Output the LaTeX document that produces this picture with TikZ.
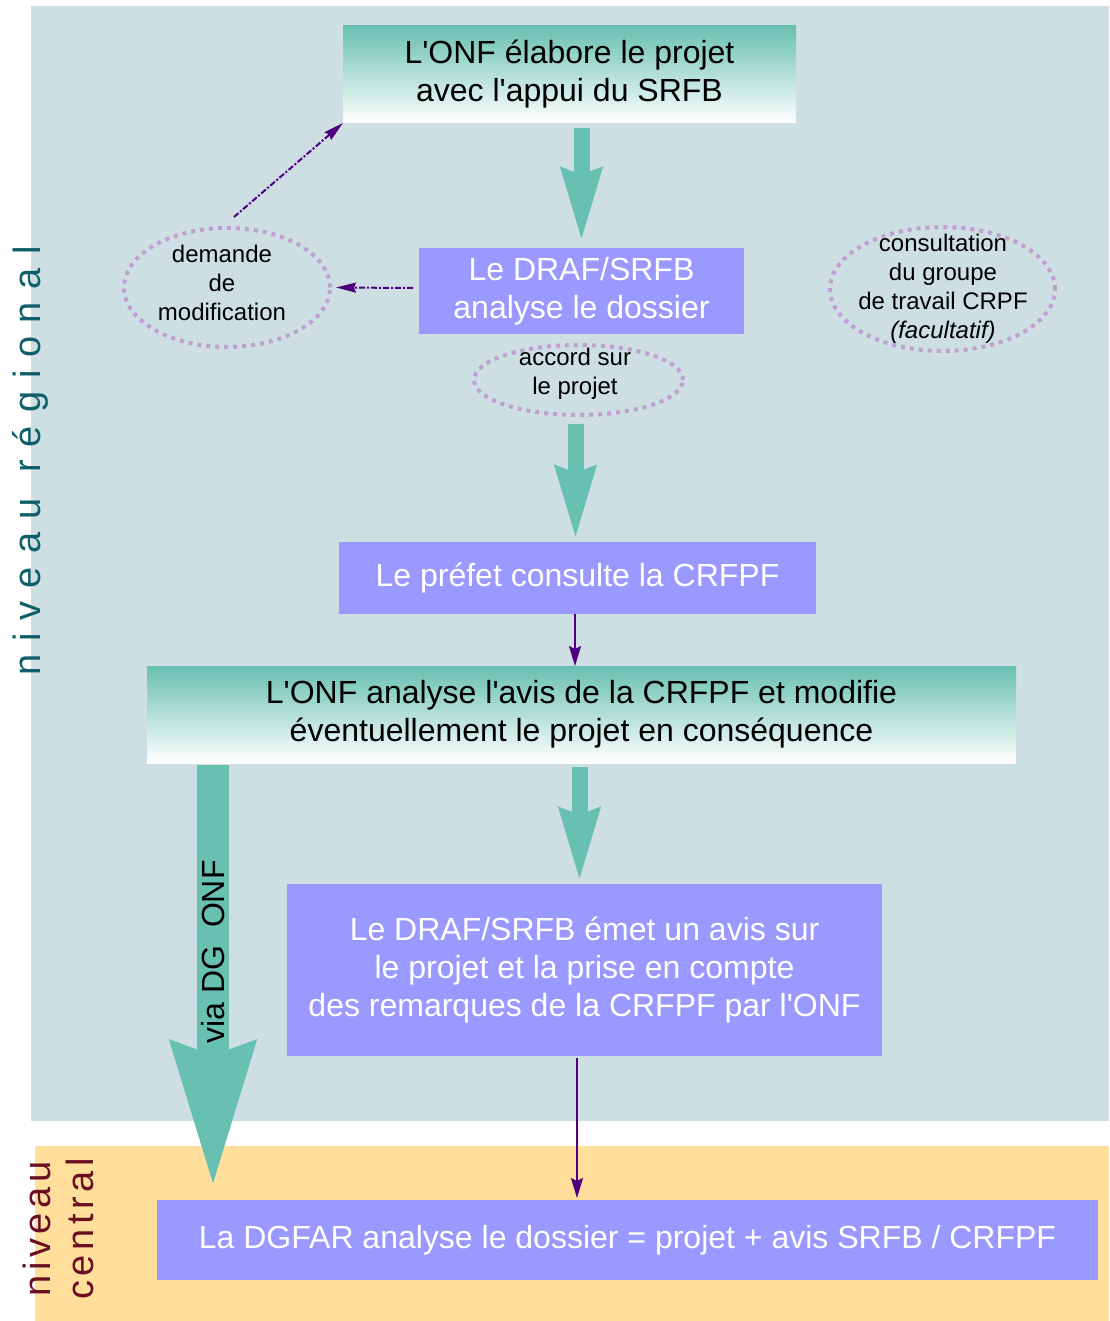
\documentclass[tikz,border=0pt]{standalone}
\usepackage{fontspec}
\setmainfont{Liberation Sans}
\usetikzlibrary{arrows.meta,shapes.geometric,calc}
\definecolor{bgreg}{HTML}{CDDFE3}
\definecolor{bgcen}{HTML}{FFDF9B}
\definecolor{boxblue}{HTML}{9999FF}
\definecolor{tealc}{HTML}{68C0B0}
\definecolor{dotc}{HTML}{C09FD2}
\definecolor{purp}{HTML}{50007F}
\definecolor{regtxt}{HTML}{0F5F6A}
\definecolor{centxt}{HTML}{6A0F22}
\newcommand\lsp{\hspace{13pt}}
\newcommand\csp{\hspace{4.5pt}}
\newcommand\q{\textquotesingle}
\begin{document}
\begin{tikzpicture}[x=1pt,y=-1pt,
  box/.style={rectangle, fill=boxblue, text=white, inner sep=0pt, outer sep=0pt, align=center, font=\fontsize{32}{38}\selectfont},
  gradbox/.style={rectangle, top color=tealc, bottom color=white, text=black, inner sep=0pt, outer sep=0pt, align=center, font=\fontsize{32}{38}\selectfont},
  note/.style={ellipse, draw=dotc, line width=4pt, dash pattern=on 4pt off 5pt, inner sep=0pt, outer sep=0pt},
  notetext/.style={inner sep=0pt, align=center, font=\fontsize{24}{29}\selectfont},
  fatarrow/.style={draw=tealc, line width=16pt, -{Stealth[length=72pt,width=38pt,inset=5pt]}},
  thinarrow/.style={draw=purp, line width=2pt, -{Stealth[length=20pt,width=12pt,inset=3pt]}},
  dasharrow/.style={draw=purp, line width=2pt, dash pattern=on 6pt off 2pt on 2pt off 2pt, -{Stealth[length=20pt,width=10pt,inset=2pt]}}
]
\useasboundingbox (0,0) rectangle (1109,1321);
% backgrounds
\fill[bgreg] (31,6) rectangle (1109,1121);
\fill[bgcen] (35,1146) rectangle (1109,1321);
% side labels
\node[rotate=90, text=regtxt, inner sep=0pt, font=\fontsize{38}{38}\selectfont] (reglabel) at (30,461)
  {n\lsp i\lsp v\lsp e\lsp a\lsp u\lsp\lsp r\lsp é\lsp g\lsp i\lsp o\lsp n\lsp a\lsp l};
\node[rotate=90, text=centxt, inner sep=0pt, align=center, font=\fontsize{38}{43}\selectfont] (cenlabel) at (58,1229)
  {n\csp i\csp v\csp e\csp a\csp u\\c\csp e\csp n\csp t\csp r\csp a\csp l};
% boxes
\node[gradbox, minimum width=453, minimum height=97] (onf1) at (569.5,74.5) {L\q ONF élabore le projet\\avec l\q appui du SRFB};
\node[box, minimum width=325, minimum height=86] (draf1) at (581.5,291) {Le DRAF/SRFB\\analyse le dossier};
\node[box, minimum width=477, minimum height=72] (prefet) at (577.5,578) {Le préfet consulte la CRFPF};
\node[gradbox, minimum width=869, minimum height=97] (onf2) at (581.5,714.5) {L\q ONF analyse l\q avis de la CRFPF et modifie\\éventuellement le projet en conséquence};
\node[box, minimum width=595, minimum height=172] (draf2) at (584.5,970) {Le DRAF/SRFB émet un avis sur\\le projet et la prise en compte\\des remarques de la CRFPF par l\q ONF};
\node[box, minimum width=941, minimum height=80] (dgfar) at (627.5,1240) {La DGFAR analyse le dossier = projet + avis SRFB / CRFPF};
% dotted ellipses
\node[note, minimum width=206, minimum height=119] (demande) at (227,287.5) {};
\node[notetext] (demandetxt) at (222,283) {demande\\de\\modification};
\node[note, minimum width=209, minimum height=70] (accord) at (578.5,380) {};
\node[notetext] (accordtxt) at (575,374) {accord sur\\le projet};
\node[note, minimum width=225, minimum height=124] (consult) at (942.5,289) {};
\node[notetext] (consulttxt) at (943,289) {consultation\\du groupe\\de travail CRPF\\\textit{(facultatif)}};
% fat arrows
\draw[fatarrow] ($(onf1.south -| draf1.north)+(0,5)$) -- ($(draf1.north)+(0,-6)$);
\draw[fatarrow] ($(accord.south)+(-3,9)$) -- ($(accord.south |- prefet.north)+(-3,-2)$);
\draw[fatarrow] ($(onf2.south)+(-2,4)$) -- ($(onf2.south |- draf2.north)+(-2,-2)$);
\draw[draw=tealc, line width=32pt, -{Stealth[length=144pt,width=78pt,inset=10pt]}]
  ($(onf2.south west)+(66,2)$) -- ($(dgfar.north west)+(56,-10)$);
\node[rotate=90, inner sep=0pt, font=\fontsize{32}{32}\selectfont] (via) at (213,952) {via DG\hspace{9pt} ONF};
% thin arrows
\draw[thinarrow] ($(prefet.south)+(-2.5,0)$) -- ($(prefet.south |- onf2.north)+(-2.5,0)$);
\draw[thinarrow] ($(draf2.south)+(-7.5,2)$) -- ($(draf2.south |- dgfar.north)+(-7.5,-2)$);
% dashed arrows
\draw[dasharrow] ($(draf1.west)+(-6,-3)$) -- ($(demande.east)+(6,0)$);
\draw[dasharrow] ($(demande.north)+(7,-11)$) -- (onf1.south west);
\end{tikzpicture}
\end{document}
